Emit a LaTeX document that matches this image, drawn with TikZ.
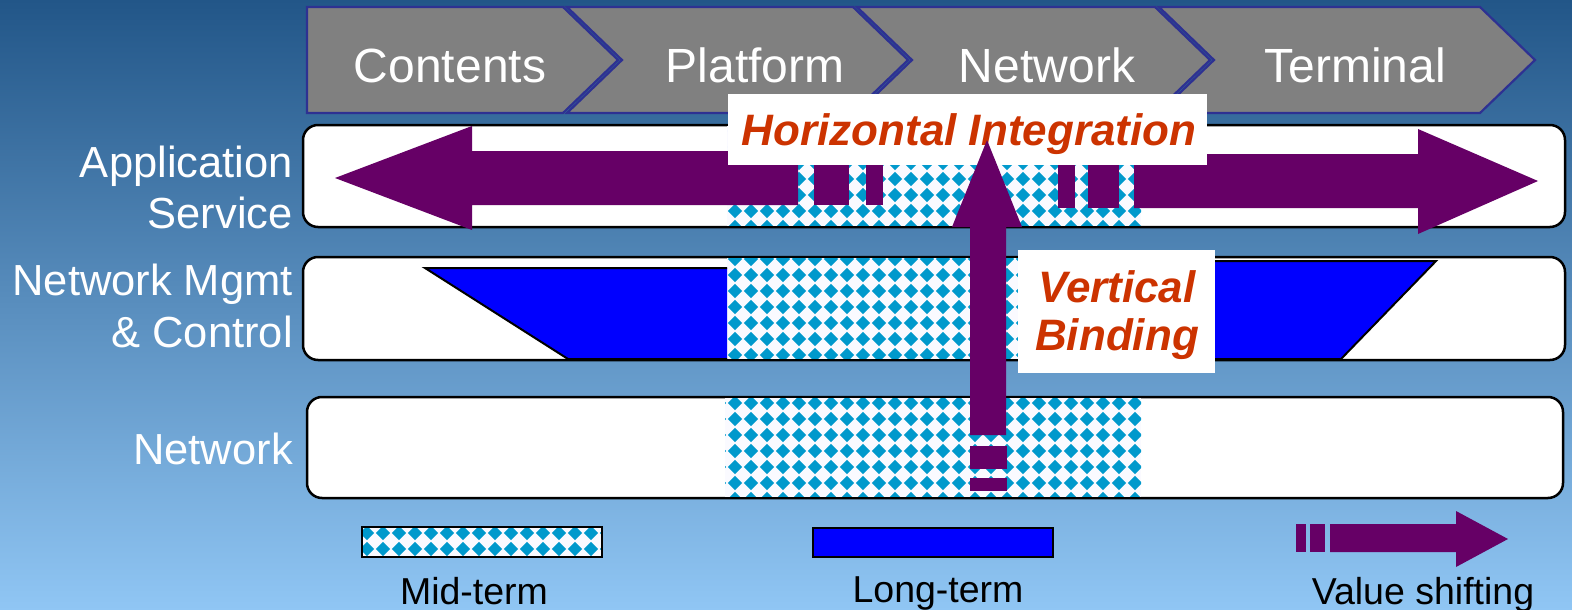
\documentclass[tikz,border=0pt]{standalone}
\usepackage{fontspec}
\setmainfont{Liberation Sans}
\definecolor{purp}{RGB}{102,0,102}
\definecolor{lblred}{RGB}{204,51,0}
\definecolor{dia}{RGB}{0,153,204}
\definecolor{patbg}{RGB}{250,250,255}
\definecolor{chevgray}{RGB}{128,128,128}
\definecolor{chevline}{RGB}{46,49,146}
\definecolor{bgtop}{RGB}{34,86,136}
\definecolor{bgmid}{RGB}{74,140,198}
\definecolor{bgbot}{RGB}{144,198,244}
\definecolor{longblue}{RGB}{0,0,255}
\newcommand{\diarow}[2]{%
  \foreach \dx in {#1} {\foreach \dy in {#2} {%
    \fill[dia] (\dx,\dy) +(-7.2,0) -- +(0,-7.2) -- +(7.2,0) -- +(0,7.2) -- cycle;}}}
\begin{document}
\begin{tikzpicture}[x=1pt,y=-1pt,
  chevron/.style={fill=chevgray,draw=chevline,line width=2.2pt,line join=miter},
  chevtext/.style={text=white,font=\fontsize{48}{56}\selectfont,inner sep=0pt,anchor=base},
  rowbox/.style={fill=white,draw=black,line width=2.5pt,rounded corners=15pt},
  sidetext/.style={text=white,font=\fontsize{43.5}{51}\selectfont,inner sep=0pt,anchor=base east},
  longfill/.style={fill=longblue},
  longedge/.style={draw=black,line width=2pt,line join=miter},
  longterm/.style={fill=longblue,draw=black,line width=2pt,line join=miter},
  varrow/.style={fill=purp},
  lblbox/.style={fill=white,inner sep=0pt,outer sep=0pt},
  lbltext/.style={text=lblred,font=\fontsize{44}{51}\selectfont\bfseries\itshape,inner sep=0pt,anchor=base},
  legtext/.style={text=black,font=\fontsize{37.5}{44}\selectfont,inner sep=0pt,anchor=base}]
\useasboundingbox (0,0) rectangle (1572,610);
% background
\shade[top color=bgtop,middle color=bgmid,bottom color=bgbot] (0,0) rectangle (1572,610);

% chevrons
\draw[chevron] (307,7) -- (563,7) -- (618,60) -- (563,113) -- (307,113) -- cycle;
\draw[chevron] (567,7) -- (853,7) -- (908,60) -- (853,113) -- (567,113) -- (622,60) -- cycle;
\draw[chevron] (857,7) -- (1155,7) -- (1210,60) -- (1155,113) -- (857,113) -- (912,60) -- cycle;
\draw[chevron] (1159,7) -- (1480,7) -- (1535,60) -- (1480,113) -- (1159,113) -- (1214,60) -- cycle;
\node[chevtext] (tcont) at (450,82) {Contents};
\node[chevtext] (tplat) at (755,82) {Platform};
\node[chevtext] (tnetw) at (1047,82) {Network};
\node[chevtext] (tterm) at (1355,82) {Terminal};

% row boxes
\draw[rowbox] (303,125) rectangle (1565,227);
\draw[rowbox] (303,257) rectangle (1565,360);
\draw[rowbox] (307,397) rectangle (1563,498);

% mid-term patterns
\begin{scope}
  \clip (727,126.3) rectangle (1141,225.7);
  \fill[patbg] (727,120) rectangle (1141,230);
  \diarow{719,735,...,1151}{115,131,...,227}
\end{scope}
\begin{scope}
  \clip (727,258.3) rectangle (1141,358.7);
  \fill[patbg] (727,250) rectangle (1141,365);
  \diarow{719,735,...,1151}{243,259,...,371}
\end{scope}
\begin{scope}
  \clip (725,398.3) rectangle (1141,496.7);
  \fill[patbg] (720,390) rectangle (1141,500);
  \diarow{719,735,...,1151}{387,403,...,499}
\end{scope}

% long-term trapezoids
\fill[longfill] (425,268) -- (727,268) -- (727,359) -- (568,359) -- cycle;
\draw[longedge] (727,268) -- (425,268) -- (568,359) -- (727,359);
\fill[longfill] (1141,261) -- (1436,261) -- (1341,359) -- (1141,359) -- cycle;
\draw[longedge] (1141,261) -- (1436,261) -- (1341,359) -- (1141,359);

% horizontal value-shifting arrow
\fill[varrow] (335,178) -- (472,126) -- (472,151) -- (798,151) -- (798,205) -- (472,205) -- (472,230) -- cycle;
\fill[varrow] (814,151) rectangle (849,205);
\fill[varrow] (866,151) rectangle (883,205);
\fill[varrow] (1538,181) -- (1418,129) -- (1418,154) -- (1134,154) -- (1134,208) -- (1418,208) -- (1418,234) -- cycle;
\fill[varrow] (1088,154) rectangle (1119,208);
\fill[varrow] (1058,154) rectangle (1075,208);

% horizontal integration label
\fill[lblbox] (728,94) rectangle (1207,165);
\node[lbltext] (hlbl) at (969,145) {Horizontal Integration};

% vertical arrow
\fill[varrow] (987,140) -- (1022,227) -- (1006,227) -- (1006,435) -- (970,435) -- (970,227) -- (952,227) -- cycle;
\fill[varrow] (970,446) rectangle (1007,469);
\fill[varrow] (970,478) rectangle (1007,491);

% vertical binding label
\fill[lblbox] (1018,250) rectangle (1215,373);
\node[lbltext] (vlbl1) at (1117,302) {Vertical};
\node[lbltext] (vlbl2) at (1117,350) {Binding};

% side labels
\node[sidetext] (sapp) at (293,177) {Application};
\node[sidetext] (sserv) at (293,228) {Service};
\node[sidetext] (smgmt) at (293,295) {Network Mgmt};
\node[sidetext] (sctrl) at (293,347) {\& Control};
\node[sidetext] (snet) at (293,464) {Network};

% legend
\begin{scope}
  \clip (362,527) rectangle (602,557);
  \fill[patbg] (362,527) rectangle (602,557);
  \diarow{351,367,...,615}{533,549}
\end{scope}
\draw[black,line width=2pt] (362,527) rectangle (602,557);
\node[legtext] (lmid) at (474,604) {Mid-term};
\draw[longterm] (813,528) rectangle (1053,557);
\node[legtext] (llong) at (938,602) {Long-term};
\fill[varrow] (1296,524) rectangle (1306,552);
\fill[varrow] (1310,524) rectangle (1325,552);
\fill[varrow] (1330,524) -- (1456,524) -- (1456,511) -- (1508,539) -- (1456,567) -- (1456,552) -- (1330,552) -- cycle;
\node[legtext] (lval) at (1423,604) {Value shifting};
\end{tikzpicture}
\end{document}
